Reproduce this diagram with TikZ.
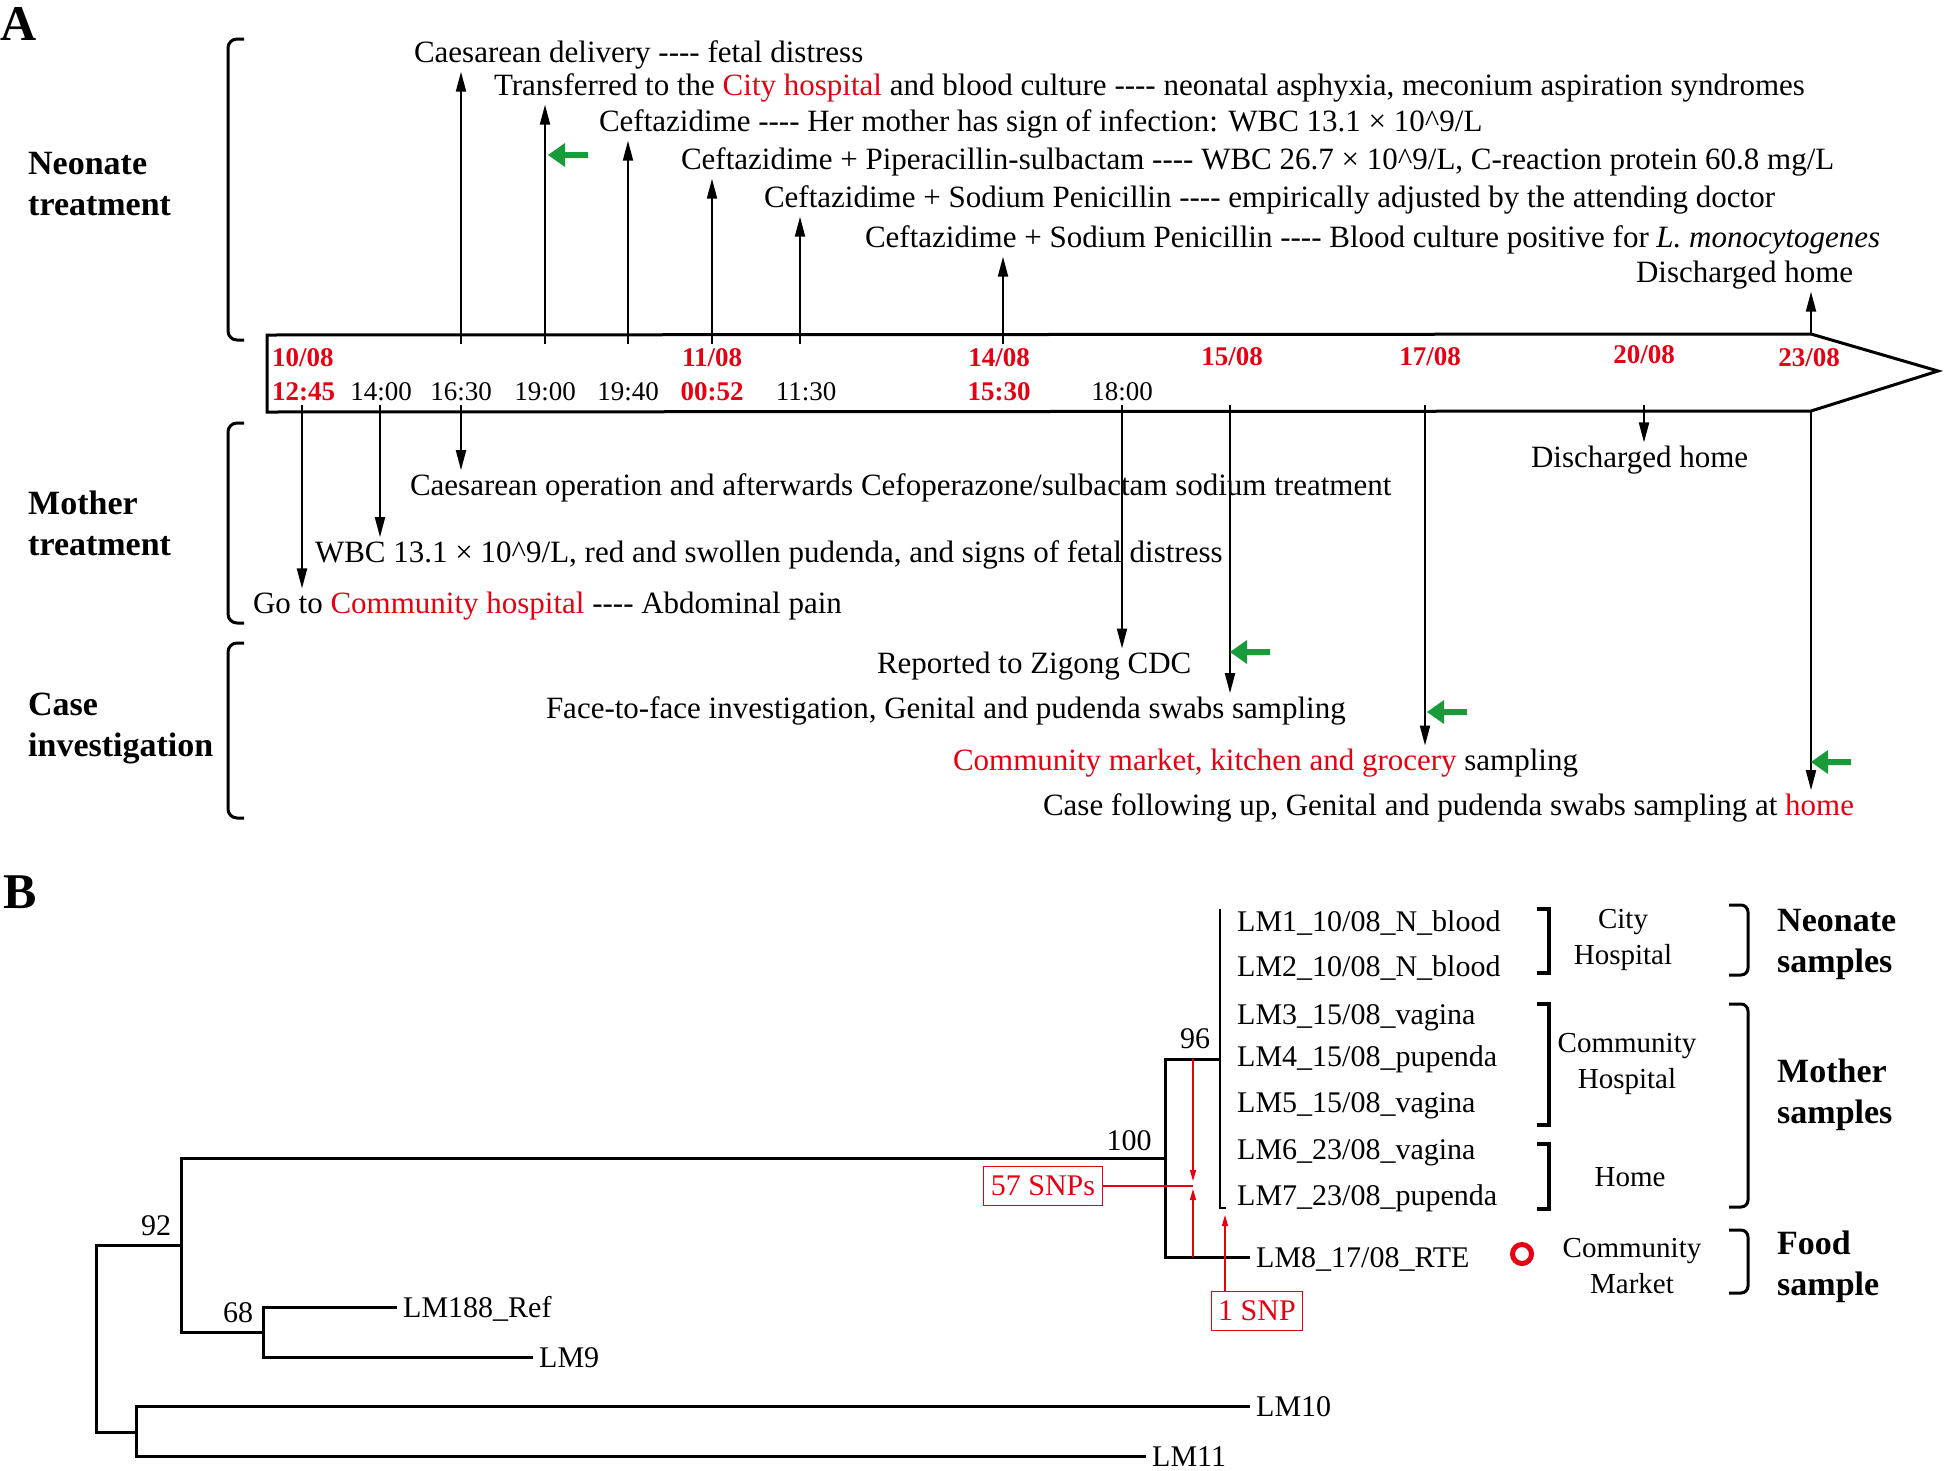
\documentclass[tikz,border=0pt]{standalone}
\usepackage{fontspec}
\setmainfont{Liberation Serif}
\usetikzlibrary{arrows.meta}

\definecolor{hred}{RGB}{230,0,18}
\definecolor{hgreen}{RGB}{25,155,60}
\newcommand{\fourdash}{-{}-{}-{}-}
\newcommand{\hl}[1]{\textcolor{hred}{#1}}

\tikzset{
  greenmark/.pic={\fill[hgreen] (0,0) -- (17,-12) -- (17,-3) -- (40,-3) -- (40,3) -- (17,3) -- (17,12) -- cycle;}
}

\begin{document}
\begin{tikzpicture}[x=1pt, y=-1pt,
  evt/.style={anchor=base west, inner sep=0pt, outer sep=3pt, font=\fontsize{31}{37}\selectfont},
  sect/.style={anchor=base west, inner sep=0pt, align=left, font=\fontsize{34}{41}\selectfont\bfseries},
  panel/.style={anchor=base west, inner sep=0pt, font=\fontsize{50}{60}\selectfont\bfseries},
  date/.style={anchor=base, inner sep=0pt, text=hred, font=\fontsize{27}{32}\selectfont\bfseries},
  hour/.style={anchor=base, inner sep=0pt, font=\fontsize{27}{32}\selectfont},
  tarr/.style={line width=2pt, -{Triangle[length=20pt,width=10pt]}},
  sectbr/.style={line width=3pt, rounded corners=9pt},
  leaf/.style={anchor=west, inner xsep=6pt, inner ysep=0pt, text height=21pt, text depth=0pt, font=\fontsize{30}{36}\selectfont},
  boot/.style={anchor=base, inner sep=0pt, font=\fontsize{30}{36}\selectfont},
  branch/.style={line width=3pt},
  grp/.style={align=center, inner sep=0pt, font=\fontsize{29}{36}\selectfont},
  sqbr/.style={line width=3.5pt},
  bigbr/.style={line width=3pt, rounded corners=7pt},
  snpbox/.style={draw=hred, text=hred, line width=1pt, inner xsep=7pt, minimum height=39pt, font=\fontsize{30}{36}\selectfont},
  rarr/.style={hred, line width=1.2pt, -{Triangle[length=11pt,width=6pt]}},
  rline/.style={hred, line width=1.2pt}]

  %% ════ panel A : section labels and brackets ════
  % (base of a two-line label = baseline of its last line)
  \node[panel] (pA) at (0,40) {A};
  \node[sect] (sNeo) at (28,215) {Neonate\\treatment};
  \node[sect] (sMot) at (28,555) {Mother\\treatment};
  \node[sect] (sCase) at (28,756) {Case\\investigation};
  \draw[sectbr] (244,39) -- (228,39) -- (228,340) -- (244,340);
  \draw[sectbr] (244,423) -- (228,423) -- (228,623) -- (244,623);
  \draw[sectbr] (244,643) -- (228,643) -- (228,818) -- (244,818);

  %% ════ timeline arrow ════
  \draw[line width=3pt] (267,335) -- (1811,334) -- (1938,371) -- (1811,411) -- (267,412) -- cycle;
  \coordinate (boxtop) at (0,344);
  \coordinate (boxbot) at (0,405);
  \coordinate (corner1) at (1811,334);
  \coordinate (corner2) at (1811,411);

  % ticks (x on the time line)
  \coordinate (t1245) at (302,373);
  \coordinate (t1400) at (380,373);
  \coordinate (t1630) at (461,373);
  \coordinate (t1900) at (545,373);
  \coordinate (t1940) at (628,373);
  \coordinate (t0052) at (712,373);
  \coordinate (t1130) at (800,373);
  \coordinate (t1530) at (1003,373);
  \coordinate (t1800) at (1122,373);
  \coordinate (d1508) at (1230,373);
  \coordinate (d1708) at (1425,373);
  \coordinate (d2008) at (1644,373);

  % dates and hours
  \node[date, anchor=base west] (dt1008) at (272,366) {10/08};
  \node[date] (dt1108) at (712,366) {11/08};
  \node[date] (dt1408) at (999,366) {14/08};
  \node[date] (dt1508) at (1232,365) {15/08};
  \node[date] (dt1708) at (1430,365) {17/08};
  \node[date] (dt2008) at (1644,363) {20/08};
  \node[date] (dt2308) at (1809,366) {23/08};
  \node[date, anchor=base west] (hr1245) at (272,400) {12:45};
  \node[hour] (hr1400) at (381,400) {14:00};
  \node[hour] (hr1630) at (461,400) {16:30};
  \node[hour] (hr1900) at (545,400) {19:00};
  \node[hour] (hr1940) at (628,400) {19:40};
  \node[date] (hr0052) at (712,400) {00:52};
  \node[hour] (hr1130) at (806,400) {11:30};
  \node[date] (hr1530) at (999,400) {15:30};
  \node[hour] (hr1800) at (1122,400) {18:00};

  %% ════ neonate events (above) ════
  \node[evt] (nCaes) at (411,62) {Caesarean delivery \fourdash{} fetal distress};
  \node[evt] (nTrans) at (491,95) {Transferred to the \hl{City hospital} and blood culture \fourdash{} neonatal asphyxia, meconium aspiration syndromes};
  \node[evt] (nCef1) at (596,131) {Ceftazidime \fourdash{} Her mother has sign of infection: WBC 13.1 × 10\textasciicircum9/L};
  \node[evt] (nCef2) at (678,169) {Ceftazidime + Piperacillin-sulbactam \fourdash{} WBC 26.7 × 10\textasciicircum9/L, C-reaction protein 60.8 mg/L};
  \node[evt] (nCef3) at (761,207) {Ceftazidime + Sodium Penicillin \fourdash{} empirically adjusted by the attending doctor};
  \node[evt] (nCef4) at (862,247) {Ceftazidime + Sodium Penicillin \fourdash{} Blood culture positive for \textit{L. monocytogenes}};
  \node[evt] (nHome) at (1633,282) {Discharged home};

  \draw[tarr] (t1630 |- boxtop) -- (t1630 |- nCaes.south);
  \draw[tarr] (t1900 |- boxtop) -- (t1900 |- nTrans.south);
  \draw[tarr] (t1940 |- boxtop) -- (t1940 |- nCef1.south);
  \draw[tarr] (t0052 |- boxtop) -- (t0052 |- nCef2.south);
  \draw[tarr] (t1130 |- boxtop) -- (t1130 |- nCef3.south);
  \draw[tarr] (t1530 |- boxtop) -- (t1530 |- nCef4.south);
  \draw[tarr] (corner1) -- (corner1 |- nHome.south);

  %% ════ mother events and case investigation (below) ════
  \node[evt] (mCaes) at (407,495) {Caesarean operation and afterwards Cefoperazone/sulbactam sodium treatment};
  \node[evt] (mWbc) at (312,562) {WBC 13.1 × 10\textasciicircum9/L, red and swollen pudenda, and signs of fetal distress};
  \node[evt] (mGo) at (250,613) {Go to \hl{Community hospital} \fourdash{} Abdominal pain};
  \node[evt] (mHome) at (1528,467) {Discharged home};
  \node[evt] (cCdc) at (874,673) {Reported to Zigong CDC};
  \node[evt] (cFace) at (543,718) {Face-to-face investigation, Genital and pudenda swabs sampling};
  \node[evt] (cMkt) at (950,770) {\hl{Community market, kitchen and grocery} sampling};
  \node[evt] (cHome) at (1040,815) {Case following up, Genital and pudenda swabs sampling at \hl{home}};

  \draw[tarr] (t1245 |- boxbot) -- (t1245 |- mGo.north);
  \draw[tarr] (t1400 |- boxbot) -- (t1400 |- mWbc.north);
  \draw[tarr] (t1630 |- boxbot) -- (t1630 |- mCaes.north);
  \draw[tarr] (d2008 |- boxbot) -- (d2008 |- mHome.north);
  \draw[tarr] (t1800 |- boxbot) -- (t1800 |- cCdc.north);
  \draw[tarr] (d1508 |- boxbot) -- (d1508 |- cFace.north);
  \draw[tarr] (d1708 |- boxbot) -- (d1708 |- cMkt.north);
  \draw[tarr] (corner2) -- (corner2 |- cHome.north);

  % green markers
  \pic at (548,155) {greenmark};
  \pic at (1230,652) {greenmark};
  \pic at (1427,712) {greenmark};
  \pic at (1811,762) {greenmark};

  %% ════ panel B : tree ════
  \node[panel] (pB) at (3,908) {B};

  \coordinate (nRoot) at (96,1338);
  \coordinate (n92) at (181,1245);
  \coordinate (nOut) at (136,1432);
  \coordinate (n68) at (263,1332);
  \coordinate (n100) at (1165,1158);
  \coordinate (n96) at (1220,1059);
  \coordinate (n96top) at (1220,909);
  \coordinate (n96bot) at (1220,1208);

  \node[leaf] (lm1) at (1231,921) {LM1\_10/08\_N\_blood};
  \node[leaf] (lm2) at (1231,966) {LM2\_10/08\_N\_blood};
  \node[leaf] (lm3) at (1231,1014) {LM3\_15/08\_vagina};
  \node[leaf] (lm4) at (1231,1056) {LM4\_15/08\_pupenda};
  \node[leaf] (lm5) at (1231,1102) {LM5\_15/08\_vagina};
  \node[leaf] (lm6) at (1231,1149) {LM6\_23/08\_vagina};
  \node[leaf] (lm7) at (1231,1195) {LM7\_23/08\_pupenda};
  \node[leaf] (lm8) at (1250,1257) {LM8\_17/08\_RTE};
  \node[leaf] (lm188) at (397,1307) {LM188\_Ref};
  \node[leaf] (lm9) at (533,1357) {LM9};
  \node[leaf] (lm10) at (1250,1406) {LM10};
  \node[leaf] (lm11) at (1146,1456) {LM11};

  \draw[branch] (nRoot) |- (n92);
  \draw[branch] (nRoot) |- (nOut);
  \draw[branch] (n92) |- (n100);
  \draw[branch] (n92) |- (n68);
  \draw[branch] (n68) |- (lm188);
  \draw[branch] (n68) |- (lm9);
  \draw[branch] (nOut) |- (lm10);
  \draw[branch] (nOut) |- (lm11);
  \draw[branch] (n100) |- (n96);
  \draw[branch] (n100) |- (lm8);
  \draw[line width=2pt] (n96top) -- (n96bot) -- ++(6,0);

  \node[boot] (b96) at (1195,1048) {96};
  \node[boot] (b100) at (1129,1150) {100};
  \node[boot] (b92) at (156,1235) {92};
  \node[boot] (b68) at (238,1322) {68};

  %% ════ SNP annotations ════
  \node[snpbox] (s57) at (1043,1186) {57 SNPs};
  \node[snpbox] (s1) at (1257,1311) {1 SNP};
  \coordinate (snpA) at (1193,1181);
  \coordinate (snpB) at (1193,1189);
  \coordinate (snp1tip) at (1225,1215);
  \draw[rline] (s57.east) -- (s57.east -| snpA);
  \draw[rarr] (snpA |- n96) -- (snpA);
  \draw[rarr] (snpB |- lm8) -- (snpB);
  \draw[rarr] (s1.north -| snp1tip) -- (snp1tip);
  \node[circle, draw=hred, line width=5pt, minimum size=19pt, inner sep=0pt] (rte) at (1522,1254) {};

  %% ════ sample groups ════
  \draw[sqbr] (1537,909) -- (1549,909) -- (1549,973) -- (1537,973);
  \draw[sqbr] (1537,1004) -- (1549,1004) -- (1549,1125) -- (1537,1125);
  \draw[sqbr] (1537,1144) -- (1549,1144) -- (1549,1209) -- (1537,1209);
  \node[grp] (gCity) at (1623,940) {City\\Hospital};
  \node[grp] (gComm) at (1627,1064) {Community\\Hospital};
  \node[grp] (gHome) at (1630,1177) {Home};
  \node[grp] (gMkt) at (1632,1266) {Community\\Market};

  \draw[bigbr] (1729,905) -- (1748,905) -- (1748,975) -- (1729,975);
  \draw[bigbr] (1729,1004) -- (1748,1004) -- (1748,1207) -- (1729,1207);
  \draw[bigbr] (1729,1230) -- (1748,1230) -- (1748,1293) -- (1729,1293);
  \node[sect] (kNeo) at (1777,972) {Neonate\\samples};
  \node[sect] (kMot) at (1777,1123) {Mother\\samples};
  \node[sect] (kFood) at (1777,1295) {Food\\sample};

  % fix the canvas to the reference size
  \pgfresetboundingbox
  \path[use as bounding box] (0,0) rectangle (1946,1470);
\end{tikzpicture}
\end{document}
